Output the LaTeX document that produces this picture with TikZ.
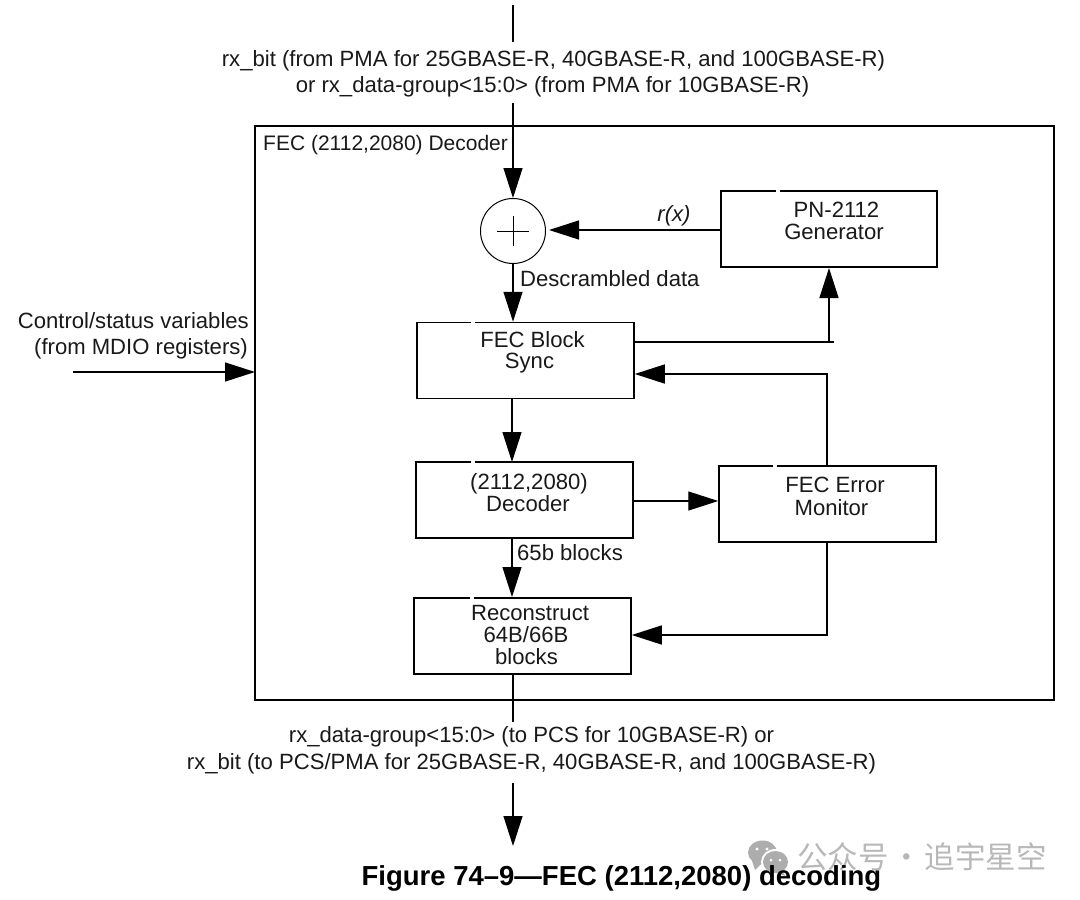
\documentclass[tikz,border=0pt]{standalone}
\usepackage{fontspec}
\setmainfont{Liberation Sans}
\newfontfamily\cjkwm{Noto Sans CJK SC}
\usetikzlibrary{arrows.meta}
\tikzset{
  wire/.style={line width=1.4pt,draw=black},
  flow/.style={wire,-{Triangle[length=30pt,width=19pt]},shorten >=0pt},
  blockbox/.style={draw=black,line width=1.5pt,fill=white,minimum width=216pt,minimum height=76pt,inner sep=0pt},
  lbl/.style={font=\fontsize{22.1}{24}\selectfont,inner sep=0pt,text=black!90,anchor=base},
  lblw/.style={lbl,anchor=base west},
  lble/.style={lbl,anchor=base east},
  topgap/.style={draw=white,line width=2.5pt},
  wmark/.style={font=\fontsize{30.5}{32}\cjkwm,inner sep=0pt,text=black!28},
  wmicon/.style={fill=black!32,draw=none},
}
\begin{document}
\begin{tikzpicture}[x=1pt,y=-1pt]
\useasboundingbox (0,0) rectangle (1080,900);
\fill[white] (0,0) rectangle (1080,900);
% outer frame
\node[draw=black,line width=1.5pt,minimum width=799pt,minimum height=574pt,inner sep=0pt] (frame) at (654.5,413) {};
% blocks
\node[blockbox] (pn)  at (829,229) {};
\node[blockbox,minimum width=217pt] (sync) at (525.5,360.5) {};
\node[blockbox,minimum width=217pt] (dec)  at (524.5,500) {};
\node[blockbox,minimum width=217pt] (mon)  at (827.5,504) {};
\node[blockbox,minimum width=217pt] (rec)  at (522.5,636) {};
\node[circle,draw=black,line width=1pt,minimum size=65pt,inner sep=0pt] (xor) at (513,231) {};
% top-edge gaps
\draw[topgap] (471,322) -- (475,322);
\draw[topgap] (471,462) -- (475,462);
\draw[topgap] (470,598) -- (474,598);
\draw[topgap] (776,191) -- (780,191);
\draw[topgap] (773,466) -- (777,466);
% plus sign
\draw[line width=1pt] (497,231) -- (529,231) (513,216) -- (513,246);
% free ends
\coordinate (topA) at (513,5);
\coordinate (topB) at (513,42);
\coordinate (topC) at (513,103);
\coordinate (ctl) at (73,372);
\coordinate (ctlEnd) at (255,372);
\coordinate (botA) at (513,722);
\coordinate (botB) at (513,783);
\coordinate (botC) at (513,846);
\coordinate (j1) at (829,342);
\coordinate (j1e) at (834,342);
\coordinate (j2) at (827,374);
\coordinate (j3) at (827,635);
% connectors
\draw[wire] (topA) -- (topB);
\draw[flow] (topC) -- (xor.north);
\draw[flow] (pn.west |- 0,230) -- (549,230);
\draw[flow] (xor.south) -- (sync.north -| xor.south);
\draw[wire] (sync.east |- j1) -- (j1e);
\draw[flow] (j1) -- (829,268);
\draw[flow] (mon.north -| j2) -- (j2) -- (sync.east |- j2);
\draw[flow] (512,398) -- (512,462);
\draw[flow] (dec.east |- 0,501) -- (mon.west |- 0,501);
\draw[flow] (512,538) -- (512,597);
\draw[flow] (mon.south -| j3) -- (j3) -- (rec.east |- j3);
\draw[wire] (rec.south -| botA) -- (botA);
\draw[flow] (botB) -- (botC);
\draw[flow] (ctl) -- (ctlEnd);
% labels
\node[lbl] (t1) at (553.5,66.7) {rx\_bit (from PMA for 25GBASE-R, 40GBASE-R, and 100GBASE-R)};
\node[lbl] (t2) at (552.5,92) {or rx\_data-group<15:0> (from PMA for 10GBASE-R)};
\node[lblw,font=\fontsize{21}{23}\selectfont] (t3) at (263,150) {FEC (2112,2080) Decoder};
\node[lbl,font=\fontsize{22.1}{24}\selectfont\itshape] (t4) at (674,221) {r(x)};
\node[lblw] (t5) at (520,286) {Descrambled data};
\node[lble] (t6) at (249,328.5) {Control/status variables};
\node[lble] (t7) at (248,354) {(from MDIO registers)};
\node[lbl] (t8) at (836.5,217) {PN-2112};
\node[lbl] (t9) at (834,239) {Generator};
\node[lbl] (t10) at (532.5,347) {FEC Block};
\node[lbl] (t11) at (529.5,368) {Sync};
\node[lbl] (t12) at (529,489.5) {(2112,2080)};
\node[lbl] (t13) at (528,511) {Decoder};
\node[lbl] (t14) at (835,492.5) {FEC Error};
\node[lbl] (t15) at (831.5,515) {Monitor};
\node[lblw] (t16) at (517,560) {65b blocks};
\node[lbl] (t17) at (530,620.5) {Reconstruct};
\node[lbl] (t18) at (526,642) {64B/66B};
\node[lbl] (t19) at (526.5,664.5) {blocks};
\node[lbl] (t20) at (531.5,742) {rx\_data-group<15:0> (to PCS for 10GBASE-R) or};
\node[lbl] (t21) at (531.5,769) {rx\_bit (to PCS/PMA for 25GBASE-R, 40GBASE-R, and 100GBASE-R)};
% watermark icon
\fill[wmicon] (762.5,852.5) ellipse (14.5pt and 12pt);
\fill[wmicon] (752,861) -- (755,870) -- (762,863) -- cycle;
\fill[white] (775.5,862) ellipse (14.5pt and 13pt);
\fill[wmicon] (775.5,862) ellipse (12.5pt and 11pt);
\fill[wmicon] (782,869) -- (785,876) -- (776,872) -- cycle;
\fill[white] (757,849) circle (1.7pt) (767,849) circle (1.7pt) (771,860) circle (1.5pt) (780,860) circle (1.5pt);
\node[wmark,anchor=west] (wm) at (797,857) {公众号\kern-4pt{} · \kern-4pt{}追宇星空};
% caption
\node[lbl,font=\fontsize{27.5}{29}\selectfont\bfseries,text=black] (cap) at (621.5,885) {Figure 74–9—FEC (2112,2080) decoding};
\end{tikzpicture}
\end{document}
